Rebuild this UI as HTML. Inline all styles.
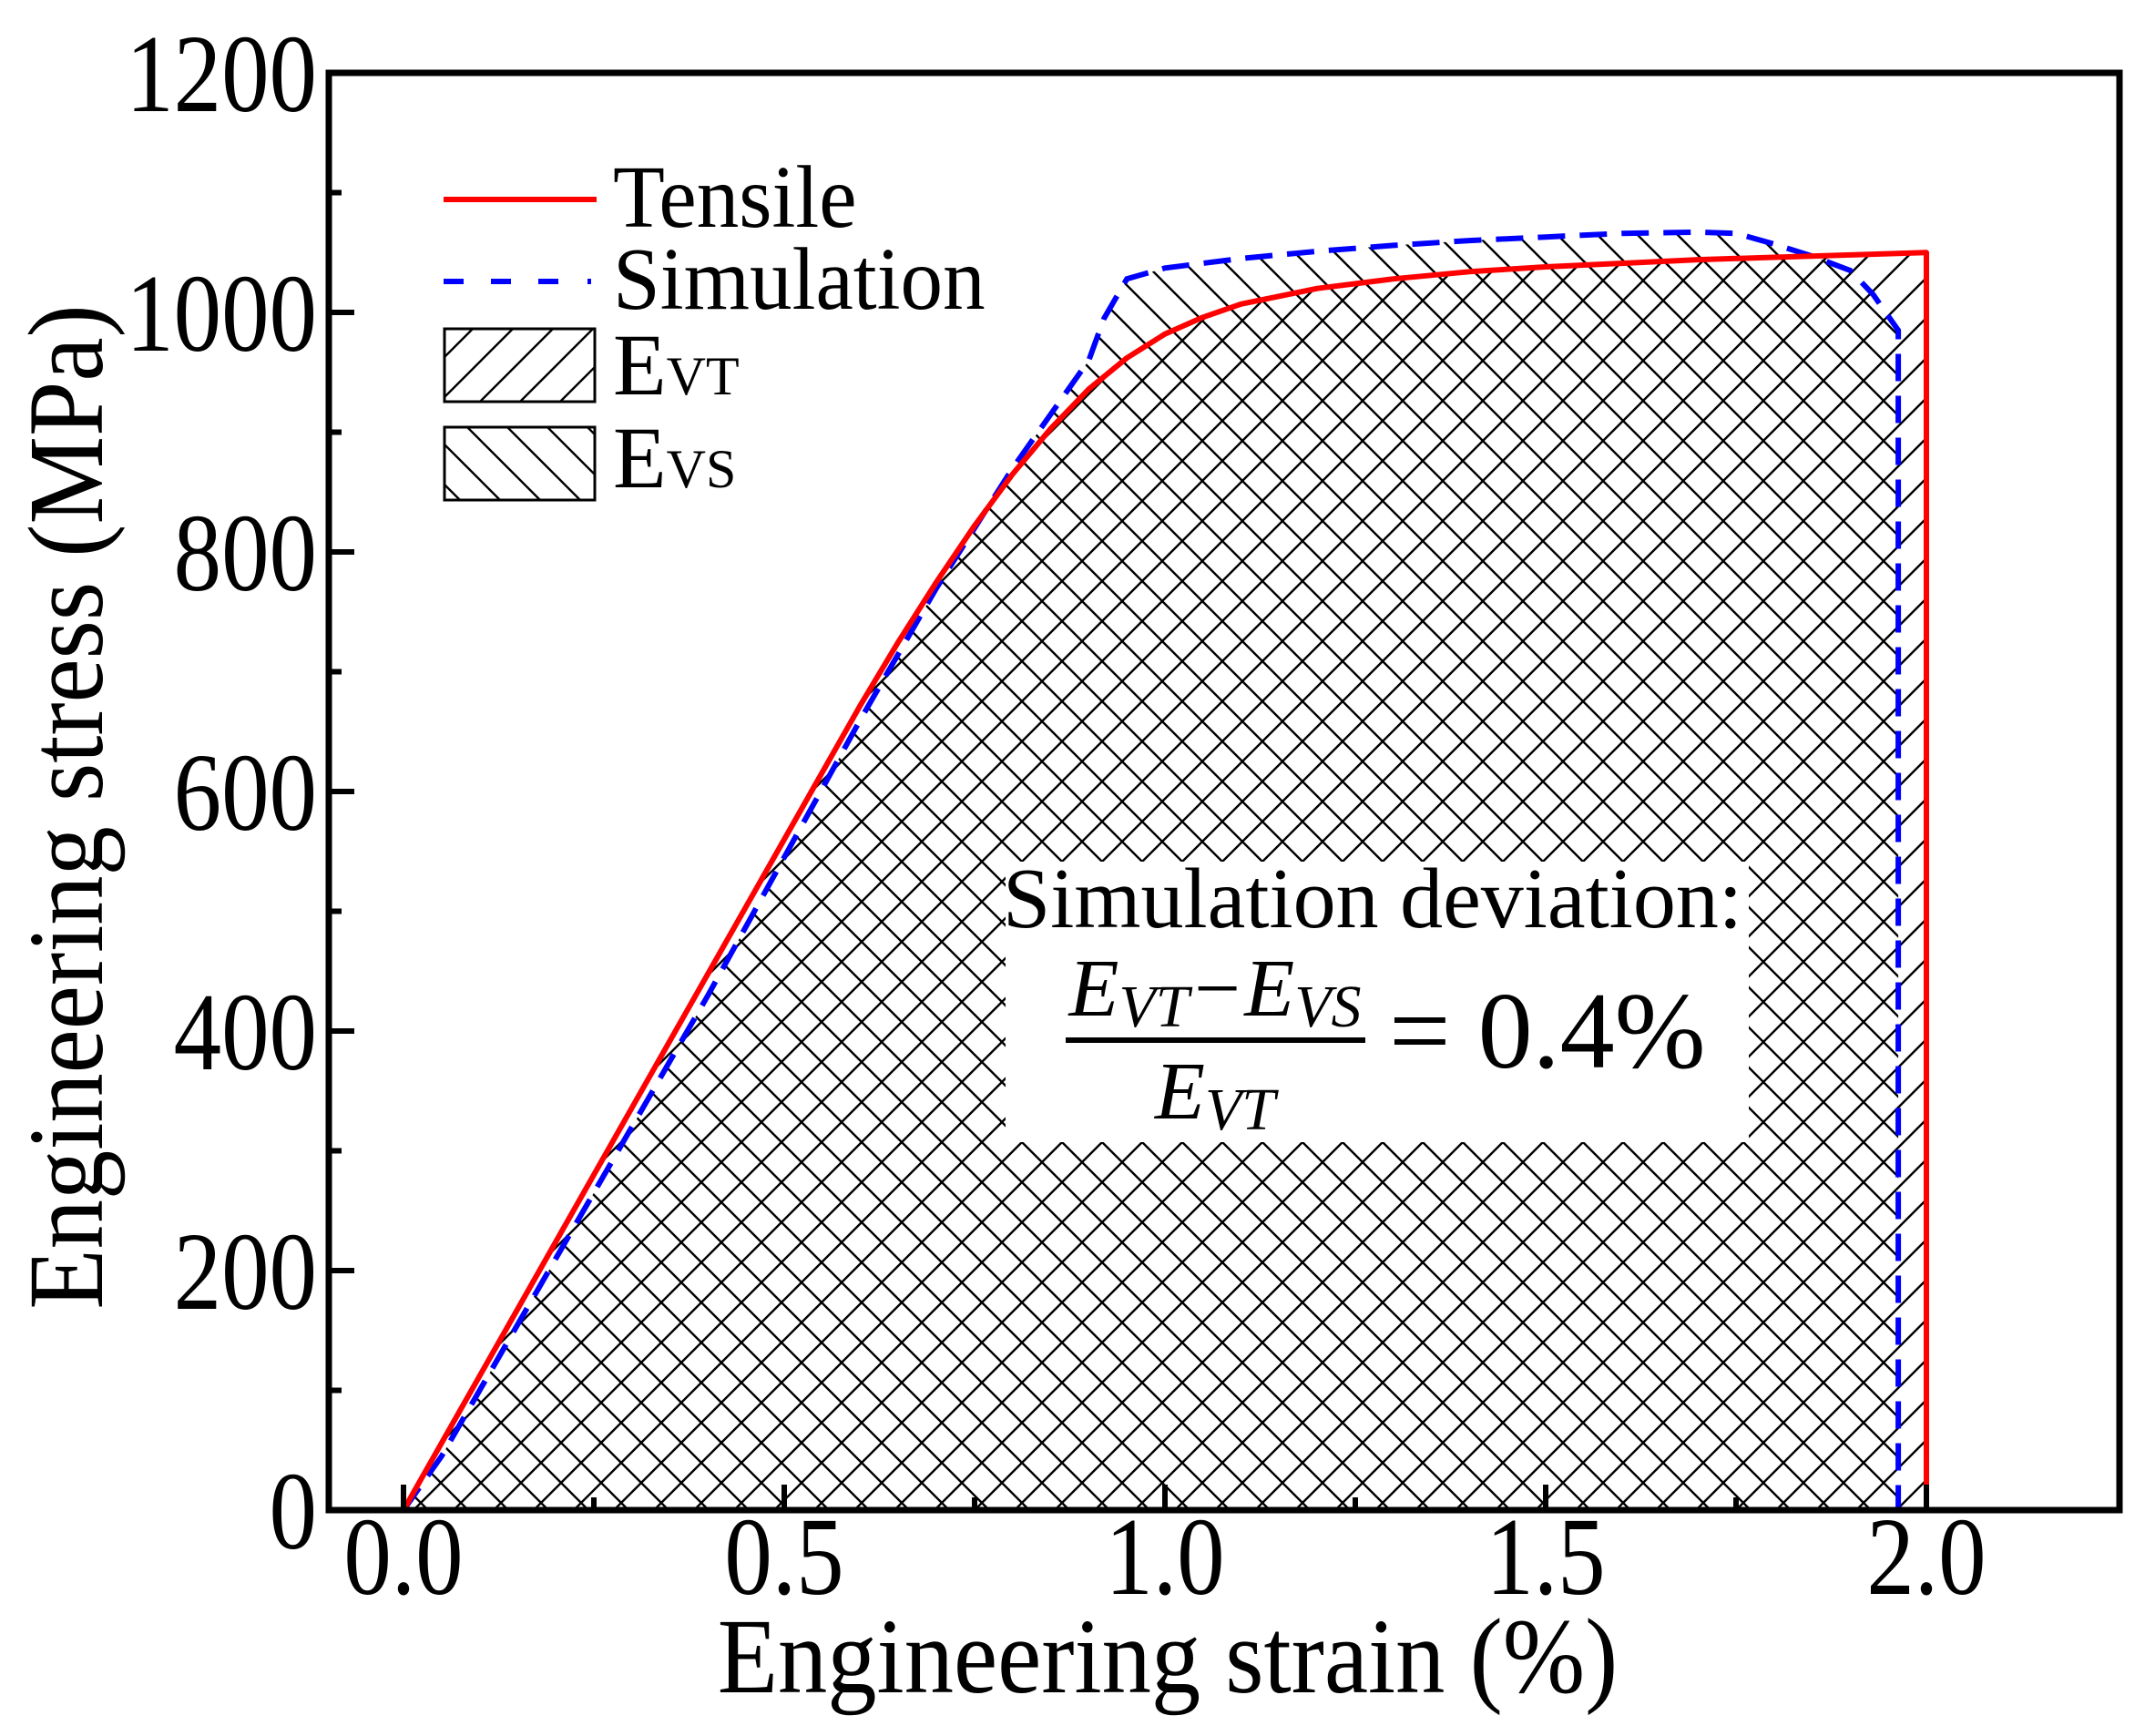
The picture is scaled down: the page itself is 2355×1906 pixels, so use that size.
<!DOCTYPE html>
<html><head><meta charset="utf-8"><style>
html,body{margin:0;padding:0;background:#fff;}
svg{display:block;font-family:"Liberation Serif","Times New Roman",serif;}
</style></head><body>
<svg id="chart" width="2355" height="1906" viewBox="0 0 2355 1906" xmlns="http://www.w3.org/2000/svg">
<defs>
<pattern id="hatchF" patternUnits="userSpaceOnUse" width="44" height="44">
<path d="M-11,11 L11,-11 M0,44 L44,0 M33,55 L55,33" stroke="#000" stroke-width="2.4"/>
</pattern>
<pattern id="hatchB" patternUnits="userSpaceOnUse" width="44" height="44">
<path d="M-11,33 L11,55 M0,0 L44,44 M33,-11 L55,11" stroke="#000" stroke-width="2.4"/>
</pattern>
<clipPath id="plotClip"><rect x="361" y="80" width="1966" height="1578"/></clipPath>
</defs>
<g id="fills" clip-path="url(#plotClip)"></g>
<rect x="1104" y="946" width="816" height="308" fill="#fff"/>
<g id="lines" clip-path="url(#plotClip)"></g>
<rect x="361" y="80" width="1966" height="1578" fill="none" stroke="#000" stroke-width="7"/>
<g id="axes"></g>
<text transform="translate(1282,1858) scale(0.92,1)" font-size="118" text-anchor="middle">Engineering strain (%)</text>
<text transform="translate(112,886) rotate(-90) scale(0.92,1)" font-size="118" text-anchor="middle">Engineering stress (MPa)</text>
<g>
<line x1="487" y1="219" x2="655" y2="219" stroke="#ff0000" stroke-width="6"/>
<text transform="translate(673,249) scale(0.95,1)" font-size="98">Tensile</text>
<line x1="487" y1="309" x2="655" y2="309" stroke="#0000ff" stroke-width="6" stroke-dasharray="22 30 22 30 22 32 4"/>
<text transform="translate(673,339) scale(0.95,1)" font-size="98">Simulation</text>
<rect x="488" y="361" width="165" height="80" fill="url(#hatchF)" stroke="#000" stroke-width="3"/>
<text x="673" y="433" font-size="96">E<tspan font-size="60">VT</tspan></text>
<rect x="488" y="469" width="165" height="80" fill="url(#hatchB)" stroke="#000" stroke-width="3"/>
<text x="673" y="535" font-size="96">E<tspan font-size="60">VS</tspan></text>
</g>
<g>
<text x="1507" y="1018" font-size="94" text-anchor="middle">Simulation deviation:</text>
<text x="1334" y="1115" font-size="90" font-style="italic" text-anchor="middle">E<tspan font-size="66" dy="12">VT</tspan><tspan dy="-12">−E</tspan><tspan font-size="66" dy="12">VS</tspan></text>
<line x1="1170" y1="1142" x2="1499" y2="1142" stroke="#000" stroke-width="6"/>
<text x="1334" y="1228" font-size="90" font-style="italic" text-anchor="middle">E<tspan font-size="66" dy="12">VT</tspan></text>
<text x="1525" y="1172" font-size="120">= 0.4%</text>
</g>
</svg>
<script>
const tensileStrain = [0,0.1,0.2,0.3,0.4,0.5,0.6,0.65,0.7,0.75,0.8,0.85,0.9,0.95,1.0,1.05,1.1,1.2,1.3,1.4,1.5,1.6,1.7,1.8,1.9,2.0,2.0];
const tensileStress = [0,112,224,336,448,560,672,725,775,822,865,903,936,962,982,996,1007,1020,1028,1034,1038,1041,1044,1046,1048,1050,0];
const simStrain = [0,0.05,0.1,0.2,0.3,0.4,0.5,0.6,0.7,0.8,0.85,0.9,0.92,0.95,1.0,1.1,1.2,1.3,1.4,1.5,1.6,1.7,1.75,1.8,1.85,1.9,1.93,1.963,1.963];
const simStress = [0,45,100,210,320,430,545,660,770,870,915,960,995,1028,1037,1045,1051,1056,1060,1063,1066,1067,1066,1057,1047,1035,1015,985,0];
const xTicks = [0,0.5,1.0,1.5,2.0];
const xTickLabels = ["0.0","0.5","1.0","1.5","2.0"];
const xMinor = [0.25,0.75,1.25,1.75];
const yTicks = [0,200,400,600,800,1000,1200];
const yTickLabels = ["0","200","400","600","800","1000","1200"];
const yMinor = [100,300,500,700,900,1100];

const NS="http://www.w3.org/2000/svg";
const X0=443, XS=836, Y0=1658, YS=1578/1200;
function xs(v){return X0+v*XS;}
function ys(v){return Y0-v*YS;}
function mk(tag,attrs,parent){const e=document.createElementNS(NS,tag);for(const k in attrs)e.setAttribute(k,attrs[k]);parent.appendChild(e);return e;}
function pts(xa,ya){return xa.map((x,i)=>xs(x).toFixed(1)+","+ys(ya[i]).toFixed(1)).join(" ");}

const fills=document.getElementById('fills');
const lines=document.getElementById('lines');
const axes=document.getElementById('axes');

const fT=mk('polygon',{points:pts(tensileStrain,tensileStress),fill:'url(#hatchF)'},fills);


const fS=mk('polygon',{points:pts(simStrain,simStress),fill:'url(#hatchB)'},fills);



const lS=mk('polyline',{points:pts(simStrain,simStress),fill:'none',stroke:'#0000ff','stroke-width':6,'stroke-dasharray':'30 16'},lines);


const lT=mk('polyline',{points:pts(tensileStrain,tensileStress),fill:'none',stroke:'#ff0000','stroke-width':6,'stroke-linejoin':'round'},lines);



xTicks.forEach((v,i)=>{
  const t=mk('line',{x1:xs(v),x2:xs(v),y1:Y0,y2:Y0-28,stroke:'#000','stroke-width':6},axes);
  
  
  const l=mk('text',{transform:'translate('+xs(v)+',1750) scale(0.86,1)','font-size':122,'text-anchor':'middle'},axes);
  l.textContent=xTickLabels[i];
  
  
});
xMinor.forEach(v=>{
  const t=mk('line',{x1:xs(v),x2:xs(v),y1:Y0,y2:Y0-14,stroke:'#000','stroke-width':6},axes);
  
  
});
yTicks.forEach((v,i)=>{
  const t=mk('line',{x1:361,x2:389,y1:ys(v),y2:ys(v),stroke:'#000','stroke-width':6},axes);
  
  
  const l=mk('text',{transform:'translate(348,'+(ys(v)+42)+') scale(0.86,1)','font-size':122,'text-anchor':'end'},axes);
  l.textContent=yTickLabels[i];
  
  
});
yMinor.forEach(v=>{
  const t=mk('line',{x1:361,x2:375,y1:ys(v),y2:ys(v),stroke:'#000','stroke-width':6},axes);
  
  
});
</script>
</body></html>
